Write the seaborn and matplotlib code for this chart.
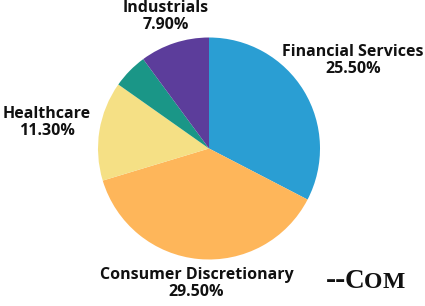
import numpy as np
import seaborn as sns
import matplotlib.pyplot as plt

sectors = ["Financial Services", "Consumer Discretionary", "Healthcare", "Other", "Industrials"]
shares = [25.5, 29.5, 11.3, 4.0, 7.9]
show_label = [True, True, True, False, True]
colors = ["#2A9ED3", "#FEB65A", "#F5E085", "#1A9687", "#5C3D9B"]
label_dist = [1.52, 1.22, 1.48, 1.3, 1.25]


def main():
    sns.set_theme(style="white")
    plt.rcParams["font.family"] = ["Open Sans", "DejaVu Sans"]

    fig = plt.figure(figsize=(4.25, 3.06), dpi=100)
    ax = fig.add_axes([98 / 425, 46.5 / 306, 222 / 425, 222 / 306])
    wedges, _ = ax.pie(shares, colors=colors, startangle=90, counterclock=False,
                       radius=1.0, wedgeprops=dict(linewidth=0))
    ax.set_xlim(-1, 1)
    ax.set_ylim(-1, 1)
    ax.set_aspect("equal")
    ax.axis("off")

    for w, name, val, show, d in zip(wedges, sectors, shares, show_label, label_dist):
        if not show:
            continue
        mid = np.deg2rad((w.theta1 + w.theta2) / 2)
        ax.text(d * np.cos(mid), d * np.sin(mid), f"{name}\n{val:.2f}%",
                ha="center", va="center", fontsize=11.5, fontweight="bold",
                color="#111111", linespacing=1.1, clip_on=False)

    # signature in the corner (small caps look)
    base = 1 - 288 / 306
    serif = dict(family="Liberation Serif", fontweight="bold", color="#111111", va="baseline")
    fig.text(346 / 425, base, "--", fontsize=22, ha="right", **serif)
    fig.text(345 / 425, base, "C", fontsize=19.5, ha="left", **serif)
    fig.text(364 / 425, base, "O", fontsize=17, ha="left", **serif)
    fig.text(383 / 425, base, "M", fontsize=17, ha="left", **serif)

    fig.savefig("out.png", dpi=100, facecolor="white")


if __name__ == "__main__":
    main()
